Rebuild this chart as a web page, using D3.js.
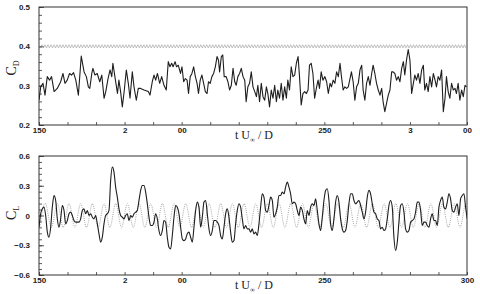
<!DOCTYPE html>
<html>
<head>
<meta charset="utf-8">
<script src="https://cdn.jsdelivr.net/npm/d3@7"></script>
<style>
  body { margin: 0; background: #fff; }
  svg { display: block; font-family: "Liberation Serif", "DejaVu Serif", serif; }
  .axis path { display: none; }
  .axis line { stroke: #333; stroke-width: 0.8; }
  .axis text { font-size: 8px; fill: #222; font-weight: bold; }
</style>
</head>
<body>
<svg id="chart"></svg>
<script>
const width = 480;
const height = 294;

// x ticks and their (partly clipped) labels as printed
const xTicks = [150, 160, 170, 180, 190, 200, 210, 220, 230, 240, 250, 260, 270, 280, 290, 300];
const topXLabelTicks = [150, 180, 200, 250, 280, 300];
const topXLabels = ["150", "2", "00", "250", "3", "00"];
const botXLabelTicks = [150, 180, 200, 250, 300];
const botXLabels = ["150", "2", "00", "250", "300"];

const cdTicks = [0.2, 0.3, 0.4, 0.5];
const clTicks = [-0.6, -0.3, 0, 0.3, 0.6];

// drag coefficient [t, Cd]
const cdSolid = [
  [150.0,.263],[150.6,.297],[151.4,.306],[152.1,.276],[152.9,.323],[153.7,.314],[154.4,.323],[155.3,.285],
  [156.4,.293],[157.6,.310],[158.4,.331],[159.1,.306],[159.9,.314],[160.7,.331],[161.4,.327],[162.1,.333],
  [162.9,.314],[163.8,.276],[164.8,.375],[165.8,.335],[166.6,.323],[167.3,.297],[167.8,.293],[168.5,.331],
  [168.9,.344],[169.6,.327],[170.4,.331],[171.3,.310],[172.0,.327],[172.8,.268],[173.4,.285],[174.2,.318],
  [174.9,.340],[175.5,.323],[175.9,.357],[176.6,.323],[177.5,.280],[178.0,.314],[178.6,.285],[179.2,.246],
  [179.9,.289],[180.6,.340],[181.3,.306],[181.9,.268],[182.7,.335],[183.3,.297],[184.1,.263],[184.8,.293],
  [185.6,.293],[186.8,.289],[188.3,.285],[188.9,.276],[189.7,.310],[190.3,.327],[190.9,.314],[191.5,.331],
  [192.3,.306],[193.0,.323],[193.8,.301],[194.6,.289],[195.3,.361],[195.9,.348],[196.5,.357],[197.0,.348],
  [197.7,.361],[198.2,.348],[198.8,.352],[199.6,.331],
  [200.1,.348],[200.7,.310],[201.3,.318],[201.9,.314],[202.4,.280],[203.0,.323],[203.6,.331],[204.2,.348],
  [204.8,.323],[205.4,.306],[205.9,.280],[206.5,.314],[207.1,.327],[207.7,.306],[208.3,.285],[208.9,.280],
  [209.4,.310],[210.0,.306],[210.6,.323],[211.2,.331],[211.8,.348],[212.4,.374],[212.9,.365],[213.3,.335],
  [213.9,.374],[214.4,.378],[214.9,.323],[215.6,.323],[216.2,.310],[216.8,.289],[217.4,.301],[218.0,.344],
  [218.6,.310],[219.1,.301],[219.7,.323],[220.3,.331],[220.9,.344],[221.5,.323],[222.1,.314],[222.6,.259],
  [223.2,.297],[223.8,.306],[224.4,.335],[225.0,.297],[225.6,.285],[226.2,.272],[226.7,.301],[227.3,.259],
  [227.9,.306],[228.5,.272],[229.1,.263],[229.7,.297],[230.2,.280],[230.8,.246],[231.4,.289],[232.0,.268],
  [232.6,.301],[233.2,.259],[233.7,.289],[234.3,.268],[234.9,.306],[235.5,.263],[236.1,.297],[236.7,.268],
  [237.2,.314],[237.8,.289],[238.4,.348],[239.0,.323],[239.6,.327],[240.2,.357],[240.8,.374],[241.3,.323],
  [241.9,.251],[242.5,.280],[243.1,.285],[243.7,.280],[244.3,.289],[244.8,.352],[245.4,.357],[246.0,.331],
  [246.6,.268],[247.2,.293],[247.8,.314],[248.3,.293],[248.9,.335],[249.5,.314],
  [250.2,.323],[250.8,.310],[251.4,.280],[252.0,.306],[252.5,.297],[253.1,.314],[253.7,.306],[254.3,.335],
  [254.9,.323],[255.5,.357],[256.0,.323],[256.6,.289],[257.2,.297],[257.8,.293],[258.4,.297],[259.0,.318],
  [259.5,.335],[260.1,.310],[260.7,.263],[261.3,.297],[261.9,.306],[262.5,.340],[263.1,.352],[263.6,.289],
  [264.2,.263],[264.8,.306],[265.4,.323],[266.0,.301],[266.6,.331],[267.1,.352],[267.7,.331],[268.3,.306],
  [268.9,.289],[269.5,.276],[270.1,.293],[270.6,.259],[271.2,.234],[271.8,.255],[272.4,.276],[273.0,.289],
  [273.6,.335],[274.1,.335],[274.7,.331],[275.3,.314],[275.9,.323],[276.5,.310],[277.1,.344],[277.7,.361],
  [278.2,.327],[278.8,.365],[279.4,.392],[280.0,.365],[280.6,.280],[281.2,.306],[281.7,.327],[282.3,.314],
  [282.9,.331],[283.5,.306],[284.1,.340],[284.7,.352],[285.2,.289],[285.8,.306],[286.4,.285],[287.0,.323],
  [287.6,.297],[288.2,.331],[288.8,.314],[289.3,.297],[289.9,.323],[290.5,.314],[291.1,.340],[291.7,.234],
  [292.3,.268],[292.8,.323],[293.4,.285],[294.0,.268],[294.6,.306],[295.2,.289],[295.8,.293],[296.3,.280],
  [296.9,.306],[297.5,.263],[298.1,.289],[298.7,.272],[299.3,.301],[299.8,.297]
];

// reference drag trace (fine zigzag near 0.4): extrema every 0.525 from t=150
const cdRefStart = 150;
const cdRefStep = 0.525;
const cdRef = [
  .404,.396,.404,.396,.404,.396,.404,.396,.404,.396,.404,.396,.404,.396,.404,.396,.404,.396,.404,.396,
  .404,.396,.404,.396,.404,.396,.404,.396,.404,.396,.404,.396,.404,.396,.404,.396,.404,.396,.404,.396,
  .404,.396,.404,.396,.404,.396,.404,.396,.404,.396,.404,.396,.404,.396,.404,.396,.404,.396,.404,.396,
  .404,.396,.404,.396,.404,.396,.404,.396,.404,.396,.404,.396,.404,.396,.404,.396,.404,.396,.404,.396,
  .404,.396,.404,.396,.404,.396,.404,.396,.404,.396,.404,.396,.404,.396,.404,.396,.404,.396,.404,.396,
  .404,.396,.404,.396,.404,.396,.404,.396,.404,.396,.404,.396,.404,.396,.404,.396,.404,.396,.404,.396,
  .404,.396,.404,.396,.404,.396,.404,.396,.404,.396,.404,.396,.404,.396,.404,.396,.404,.396,.404,.396,
  .404,.396,.404,.396,.404,.396,.404,.396,.404,.396,.404,.396,.404,.396,.404,.396,.404,.396,.404,.396,
  .404,.396,.404,.396,.404,.396,.404,.396,.404,.396,.404,.396,.404,.396,.404,.396,.404,.396,.404,.396,
  .404,.396,.404,.396,.404,.396,.404,.396,.404,.396,.404,.396,.404,.396,.404,.396,.404,.396,.404,.396,
  .404,.396,.404,.396,.404,.396,.404,.396,.404,.396,.404,.396,.404,.396,.404,.396,.404,.396,.404,.396,
  .404,.396,.404,.396,.404,.396,.404,.396,.404,.396,.404,.396,.404,.396,.404,.396,.404,.396,.404,.396,
  .404,.396,.404,.396,.404,.396,.404,.396,.404,.396,.404,.396,.404,.396,.404,.396,.404,.396,.404,.396,
  .404,.396,.404,.396,.404,.396,.404,.396,.404,.396,.404,.396,.404,.396,.404,.396,.404,.396,.404,.396,
  .404,.396,.404,.396,.404,.396,.404,.396,.404,.396,.404,.396,.404,.396,.404,.396,.404,.396,.404,.396
];

// lift coefficient, read every 0.584 time units from t=150
const clStart = 150;
const clStep = 0.584;
const clSolid = [
  -.118,.017,.067,.084,0,-.168,-.219,-.118,.084,.202,.152,-.034,-.118,-.034,.101,.051,-.084,-.051,.017,.034,
  0,-.051,-.067,-.067,-.067,-.034,.051,.067,.017,.051,0,.017,-.017,-.034,0,-.084,-.185,-.269,-.219,-.084,
  0,.017,.051,.354,.488,.438,.286,.185,.067,0,-.017,-.034,0,.017,-.051,0,-.017,.017,.034,.051,
  .152,.253,.303,.303,.236,.118,-.017,-.101,-.101,-.067,.017,-.034,-.152,-.202,-.152,-.051,-.067,-.219,-.320,-.337,
  -.202,-.017,.101,.084,.017,-.118,
  -.236,-.253,-.236,-.185,-.168,-.219,-.269,-.118,.051,.135,.084,-.118,-.017,.135,.152,.017,-.135,-.202,-.152,-.051,
  -.051,-.067,-.101,-.202,-.236,-.118,.017,.067,-.017,-.168,-.269,-.253,-.084,.051,.118,.084,-.034,-.135,-.101,-.135,
  -.135,-.168,-.135,-.185,-.168,-.202,-.084,.084,.219,.185,.051,.034,.101,.185,.152,-.017,.017,.084,.202,.202,
  .236,.219,.286,.337,.286,.219,.118,.135,.118,.051,0,.084,.051,-.034,-.084,.051,0,.084,.118,.101,
  .168,.051,-.084,-.152,-.017,.152,
  .253,.269,.152,-.084,-.152,-.034,.135,.202,.135,-.034,-.135,-.168,-.152,-.051,.118,.219,.219,.152,.118,.135,
  .152,.101,.034,-.034,.034,.185,.253,.219,.118,.034,.017,-.034,-.051,-.135,-.118,-.152,-.135,-.034,.101,.152,
  .084,-.219,-.353,-.269,-.067,.101,.118,.034,-.135,-.168,-.152,-.067,-.051,-.034,.034,.135,.135,.051,-.101,-.067,
  -.067,-.101,-.118,-.034,.017,-.051,-.051,-.101,.084,.152,.185,.084,.067,.135,.219,.168,.051,.034,.084,.118,
  0,.168,.202,.219,.084,-.034
];

// reference lift trace (dotted sinusoid): extrema every 2.045 from t=150.3
const clRefStart = 150.3;
const clRefStep = 2.045;
const clRef = [
  -.12,.12,-.12,.12,-.12,.12,-.12,.12,-.12,.12,-.12,.12,-.12,.12,-.12,.12,-.12,.12,-.12,.12,
  -.12,.12,-.12,.12,-.12,.12,-.12,.12,-.12,.12,-.12,.12,-.12,.12,-.12,.12,-.12,.12,-.12,.12,
  -.12,.12,-.12,.12,-.12,.12,-.12,.12,-.12,.12,-.12,.12,-.12,.12,-.12,.12,-.12,.12,-.12,.12,
  -.12,.12,-.12,.12,-.12,.12,-.12,.12,-.12,.12,-.12,.12,-.12,.12,-.12,.12
];

const svg = d3.select("#chart").attr("width", width).attr("height", height);
svg.append("rect").attr("width", width).attr("height", height).attr("fill", "#fff");

const left = 39, right = 467;
const x = d3.scaleLinear().domain([150, 300]).range([left, right]);

function panel(id, y0, y1, yDomain, yTicks, minorStep, xLabelTicks, xLabels, titleY) {
  const y = d3.scaleLinear().domain(yDomain).range([y1, y0]);
  const g = svg.append("g");

  g.append("clipPath").attr("id", id)
    .append("rect").attr("x", left).attr("y", y0).attr("width", right - left).attr("height", y1 - y0);

  // minor + major x ticks (inward)
  g.append("g").attr("class", "axis").attr("transform", `translate(0,${y1})`)
    .call(d3.axisBottom(x).tickValues(xTicks).tickSize(-3).tickFormat(""));
  g.append("g").attr("class", "axis").attr("transform", `translate(0,${y1})`)
    .call(d3.axisBottom(x).tickValues(xLabelTicks).tickSize(0).tickPadding(2)
      .tickFormat((d, i) => xLabels[i]));

  // y ticks
  const minor = d3.range(yDomain[0], yDomain[1] + 1e-9, minorStep);
  g.append("g").attr("class", "axis").attr("transform", `translate(${left},0)`)
    .call(d3.axisLeft(y).tickValues(minor).tickSize(-3).tickFormat(""));
  g.append("g").attr("class", "axis").attr("transform", `translate(${left},0)`)
    .call(d3.axisLeft(y).tickValues(yTicks).tickSize(-5).tickPadding(9).tickFormat(d3.format("")));

  g.append("rect").attr("x", left).attr("y", y0).attr("width", right - left).attr("height", y1 - y0)
    .attr("fill", "none").attr("stroke", "#333").attr("stroke-width", 1);

  const title = g.append("text").attr("x", 254).attr("y", titleY)
    .attr("text-anchor", "middle").attr("font-size", 12).attr("fill", "#222");
  title.append("tspan").text("t U");
  title.append("tspan").attr("font-size", 7).attr("dy", 2.5).text("\u221e");
  title.append("tspan").attr("dy", -2.5).text(" / D");

  return { g, y };
}

const topPanel = panel("clipTop", 7, 125, [0.2, 0.5], cdTicks, 0.02, topXLabelTicks, topXLabels, 139);
const botPanel = panel("clipBot", 156, 275, [-0.6, 0.6], clTicks, 0.06, botXLabelTicks, botXLabels, 289);

// y titles
function yTitle(cy, sub) {
  const t = svg.append("text").attr("transform", `translate(16,${cy}) rotate(-90)`)
    .attr("text-anchor", "middle").attr("font-size", 14).attr("fill", "#222");
  t.append("tspan").text("C");
  t.append("tspan").attr("font-size", 8).attr("dy", 3).text(sub);
}
yTitle(68, "D");
yTitle(213, "L");

// top: Cd
const cdRefLine = d3.line()
  .x((d, i) => x(cdRefStart + i * cdRefStep)).y(d => topPanel.y(d));
topPanel.g.append("path").datum(cdRef).attr("clip-path", "url(#clipTop)")
  .attr("d", cdRefLine).attr("fill", "none").attr("stroke", "#999").attr("stroke-width", 0.6);

const cdLine = d3.line().x(d => x(d[0])).y(d => topPanel.y(d[1]));
topPanel.g.append("path").datum(cdSolid).attr("clip-path", "url(#clipTop)")
  .attr("d", cdLine).attr("fill", "none").attr("stroke", "#1e1e1e").attr("stroke-width", 1.1)
  .attr("stroke-linejoin", "round");

// bottom: Cl
const clRefLine = d3.line().curve(d3.curveNatural)
  .x((d, i) => x(clRefStart + i * clRefStep)).y(d => botPanel.y(d));
botPanel.g.append("path").datum(clRef).attr("clip-path", "url(#clipBot)")
  .attr("d", clRefLine).attr("fill", "none").attr("stroke", "#888")
  .attr("stroke-width", 0.8).attr("stroke-dasharray", "0.9,1.2");

const clLine = d3.line().curve(d3.curveMonotoneX)
  .x((d, i) => x(clStart + i * clStep)).y(d => botPanel.y(d));
botPanel.g.append("path").datum(clSolid).attr("clip-path", "url(#clipBot)")
  .attr("d", clLine).attr("fill", "none").attr("stroke", "#1e1e1e").attr("stroke-width", 1.1);
</script>
</body>
</html>
